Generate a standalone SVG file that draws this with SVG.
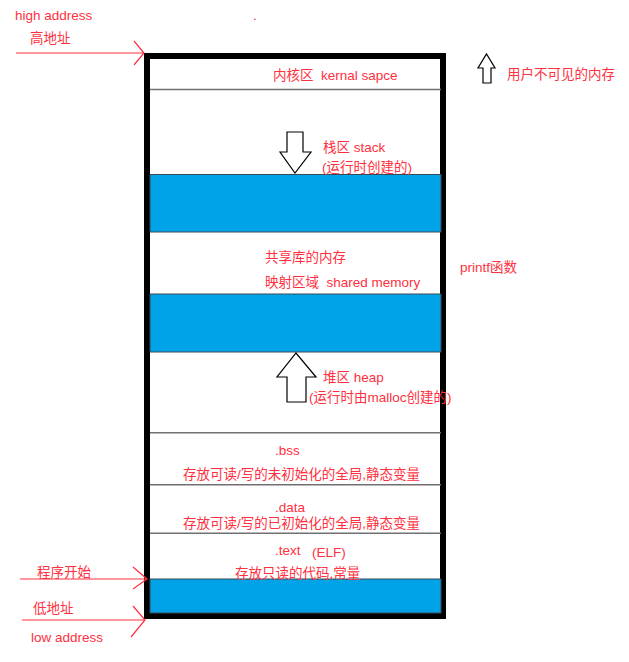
<svg xmlns="http://www.w3.org/2000/svg" width="629" height="662" viewBox="0 0 629 662">
<style>
text{font-family:"Liberation Sans","Noto Sans CJK SC",sans-serif;font-size:13.5px;fill:#ff3040;white-space:pre}
.sep{stroke:#707070;stroke-width:1.5}
.blue{fill:#00a2e8;stroke:#3a4a55;stroke-width:1}
.red{stroke:#ff3040;stroke-width:1.2;fill:none}
.arrow{fill:#fff;stroke:#000;stroke-width:1.2}
</style>
<rect width="629" height="662" fill="#fff"/>
<g id="memory">
<rect x="147" y="56" width="296" height="560" fill="#fff" stroke="#000" stroke-width="6"/>
<line class="sep" x1="150" y1="89.5" x2="441" y2="89.5"/>
<rect class="blue" x="150" y="174.5" width="291" height="57.5"/>
<rect class="blue" x="150" y="294" width="291" height="58"/>
<line class="sep" x1="150" y1="432.8" x2="441" y2="432.8"/>
<line class="sep" x1="150" y1="484.8" x2="441" y2="484.8"/>
<line class="sep" x1="150" y1="533.3" x2="441" y2="533.3"/>
<rect class="blue" x="150" y="579" width="291" height="34"/>
</g>
<g id="connectors">
<path class="red" d="M16 53H143M134 41L144 53L134 65"/>
<path class="red" d="M20 579H147M133 567L147 579L133 589"/>
<path class="red" d="M22 620H145M133 606L145 620L131 637"/>
</g>
<g id="arrows">
<path class="arrow" d="M483 83V68H478L486.5 54L495 68H491V83Z"/>
<path class="arrow" d="M287 132H303V152H311L295 173L280 152H287Z"/>
<path class="arrow" d="M287 402V377H277L296 353L316 377H306V402Z"/>
</g>
<g id="labels">
<text x="15" y="20">high address</text>
<text x="30" y="43">高地址</text>
<text x="253" y="20">.</text>
<text x="273" y="80">内核区  kernal sapce</text>
<text x="507" y="79">用户不可见的内存</text>
<text x="323" y="152">栈区 stack</text>
<text x="322" y="172">(运行时创建的)</text>
<text x="265" y="262">共享库的内存</text>
<text x="265" y="287">映射区域  shared memory</text>
<text x="460" y="272">printf函数</text>
<text x="323" y="382">堆区 heap</text>
<text x="309" y="402">(运行时由malloc创建的)</text>
<text x="275" y="455">.bss</text>
<text x="183" y="479">存放可读/写的未初始化的全局,静态变量</text>
<text x="275" y="512">.data</text>
<text x="183" y="528">存放可读/写的已初始化的全局,静态变量</text>
<text x="275" y="555">.text</text>
<text x="312" y="557">(ELF)</text>
<text x="235" y="578">存放只读的代码,常量</text>
<text x="37" y="577">程序开始</text>
<text x="33" y="613">低地址</text>
<text x="31" y="642">low address</text>
</g>
</svg>
